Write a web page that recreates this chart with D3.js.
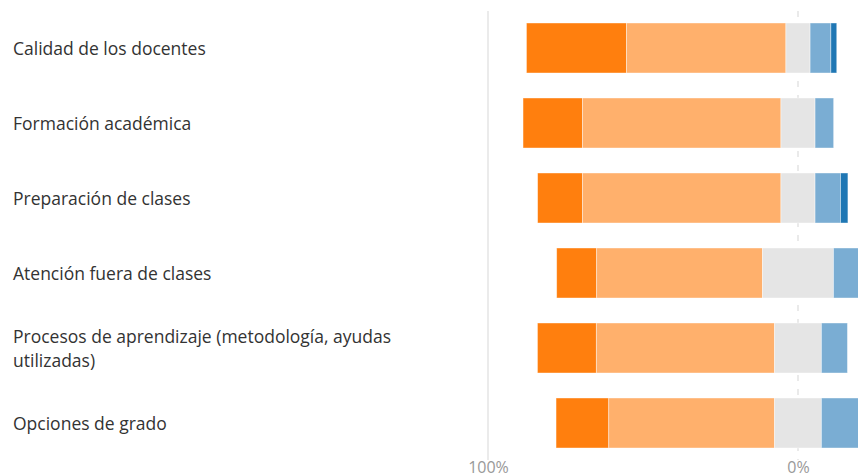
<!DOCTYPE html>
<html>
<head>
<meta charset="utf-8">
<script src="https://cdn.jsdelivr.net/npm/d3@7"></script>
<style>
  html, body { margin: 0; padding: 0; background: #fff; }
  svg { display: block; }
</style>
</head>
<body>
<div id="chart"></div>
<script>
// categories, top to bottom (second entry is the wrapped label)
const categories = [
    "Calidad de los docentes",
    "Formación académica",
    "Preparación de clases",
    "Atención fuera de clases",
    "Procesos de aprendizaje (metodología, ayudas utilizadas)",
    "Opciones de grado"
];
const labelLines = [
    ["Calidad de los docentes"],
    ["Formación académica"],
    ["Preparación de clases"],
    ["Atención fuera de clases"],
    ["Procesos de aprendizaje (metodología, ayudas", "utilizadas)"],
    ["Opciones de grado"]
];

// percentages per level
const level1 = [32.3, 19.2, 14.5, 12.9, 19.0, 17.0]; // dark orange
const level2 = [51.4, 64.0, 64.0, 53.5, 57.5, 53.5]; // light orange
const level3 = [7.8, 11.0, 11.0, 22.9, 15.1, 15.1];  // grey (neutral)
const level4 = [6.7, 6.0, 8.2, 10.7, 8.4, 14.4];     // light blue
const level5 = [1.9, 0, 2.4, 0, 0, 0];               // dark blue

const levels = [level1, level2, level3, level4, level5];
const levelColors = ["#ff7f0e", "#ffb06c", "#e5e5e5", "#7aadd3", "#1f77b4"];
const tickValues = [-100, 0];

const width = 858, height = 476;

const svg = d3.select("#chart")
    .append("svg")
    .attr("width", width)
    .attr("height", height);

const xScale = d3.scaleLinear().domain([-100, 100]).range([488, 1108]);
const yScale = d3.scaleBand()
    .domain(categories)
    .range([10.5, 460.5])
    .paddingInner(1 / 3)
    .paddingOuter(1 / 6);

// gridlines
svg.append("line")
    .attr("x1", xScale(-100)).attr("x2", xScale(-100))
    .attr("y1", 11).attr("y2", 460)
    .attr("stroke", "#e4e4e4")
    .attr("stroke-width", 1.5);

svg.append("line")
    .attr("x1", xScale(0)).attr("x2", xScale(0))
    .attr("y1", 11).attr("y2", 460)
    .attr("stroke", "#e4e4e4")
    .attr("stroke-width", 1.5)
    .attr("stroke-dasharray", "6,8");

// build the stacked segments, neutral centred on 0
const segments = [];
categories.forEach((cat, i) => {
    let start = -(level1[i] + level2[i] + level3[i] / 2);
    levels.forEach((lv, j) => {
        const v = lv[i];
        if (v > 0) {
            segments.push({ cat: cat, x0: start, x1: start + v, color: levelColors[j] });
        }
        start += v;
    });
});

svg.append("g")
    .attr("class", "bars")
    .selectAll("rect")
    .data(segments)
    .join("rect")
    .attr("x", (d) => xScale(d.x0))
    .attr("y", (d) => yScale(d.cat))
    .attr("width", (d) => xScale(d.x1) - xScale(d.x0))
    .attr("height", yScale.bandwidth())
    .attr("fill", (d) => d.color)
    .attr("stroke", "#ffffff")
    .attr("stroke-opacity", 0.5)
    .attr("stroke-width", 0.8);

// category labels
const labels = svg.append("g")
    .selectAll("text")
    .data(categories)
    .join("text")
    .attr("x", 13)
    .attr("y", (d) => yScale(d) + yScale.bandwidth() / 2)
    .style("font-family", "'Open Sans', sans-serif")
    .style("font-size", "17.5px")
    .style("fill", "#333333");

labels.each(function (d, i) {
    const lines = labelLines[i];
    const lineH = 24;
    const offset = -(lines.length - 1) * lineH / 2;
    d3.select(this)
        .selectAll("tspan")
        .data(lines)
        .join("tspan")
        .attr("x", 13)
        .attr("dy", (l, k) => (k === 0 ? offset + 7 : lineH))
        .text((l) => l);
});

// x axis labels
const xAxis = d3.axisBottom(xScale)
    .tickValues(tickValues)
    .tickFormat((d) => Math.abs(d) + "%")
    .tickSize(0);

const axisG = svg.append("g")
    .attr("transform", "translate(0, 455)")
    .call(xAxis);

axisG.select(".domain").remove();
axisG.selectAll("text")
    .attr("dy", "0")
    .attr("y", 18)
    .style("font-family", "'Open Sans', sans-serif")
    .style("font-size", "16px")
    .style("fill", "#999999");
</script>
</body>
</html>
